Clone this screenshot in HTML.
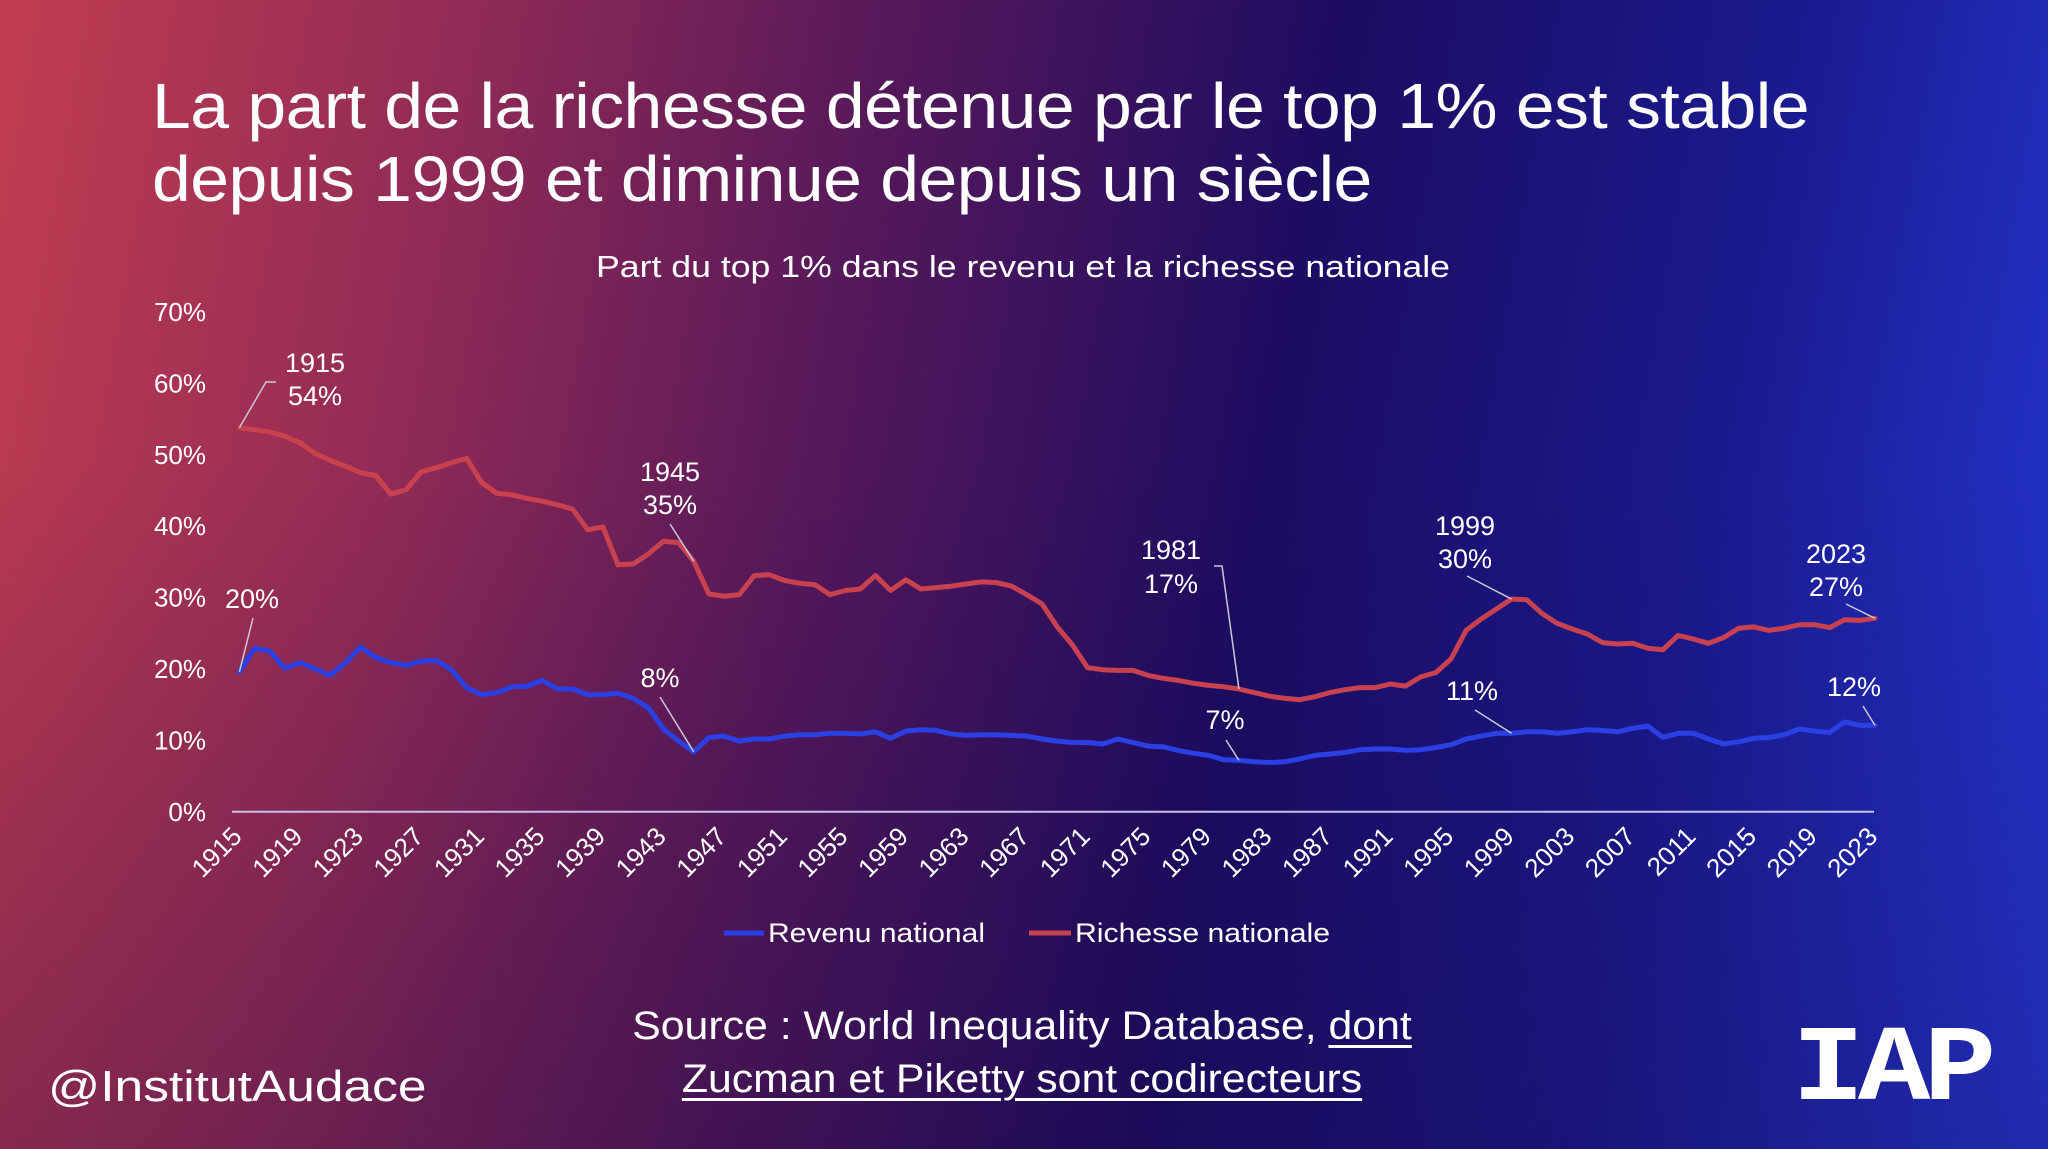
<!DOCTYPE html>
<html><head><meta charset="utf-8">
<style>
html,body{margin:0;padding:0;}
body{width:2048px;height:1149px;overflow:hidden;position:relative;font-family:"Liberation Sans",sans-serif;color:#fff;
background:linear-gradient(100deg,#c23d50 0%,#8e2a56 22%,#55185a 40%,#1c0c62 60%,#1a1a8e 80%,#2438d6 100%);}
.ov{position:absolute;inset:0;background:linear-gradient(180deg,rgba(0,0,0,0) 40%,rgba(20,5,60,0.25) 100%);}
.title{position:absolute;left:152px;top:70px;font-size:64px;line-height:73px;letter-spacing:-0.5px;margin:0;font-weight:normal;transform:scaleX(1.09);transform-origin:left top;white-space:nowrap;}
svg{position:absolute;left:0;top:0;}
.handle{position:absolute;left:48px;top:1062px;font-size:44px;transform:scaleX(1.17);transform-origin:left top;}
.src{position:absolute;left:522px;width:1000px;top:1000px;text-align:center;font-size:40px;line-height:53px;transform:scaleX(1.07);transform-origin:center top;}
.src u{text-decoration-thickness:3px;text-underline-offset:6px;}
.iap{position:absolute;left:1792px;top:1010px;font-family:"Liberation Mono",monospace;font-weight:bold;font-size:108px;letter-spacing:-6px;transform:scaleX(1.12);transform-origin:left top;}
</style></head>
<body>
<div class="ov"></div>
<h1 class="title">La part de la richesse détenue par le top 1% est stable<br>depuis 1999 et diminue depuis un siècle</h1>
<svg id="chart" width="2048" height="1149"></svg>
<div class="src">Source : World Inequality Database, <u>dont<br>Zucman et Piketty sont codirecteurs</u></div>
<div class="handle">@InstitutAudace</div>
<div class="iap">IAP</div>
<script>
const years = [];
for (let y = 1915; y <= 2023; y++) years.push(y);
const revenu = [19.6,22.9,22.5,20.1,20.9,20,19.1,20.9,23.1,21.6,20.9,20.5,21.1,21.2,19.9,17.4,16.4,16.7,17.5,17.6,18.4,17.2,17.2,16.4,16.4,16.6,15.9,14.6,11.6,9.9,8.4,10.4,10.6,9.9,10.2,10.2,10.6,10.8,10.8,11,11,10.9,11.2,10.3,11.3,11.5,11.4,10.9,10.7,10.8,10.8,10.7,10.6,10.2,9.9,9.7,9.7,9.5,10.2,9.7,9.2,9.1,8.6,8.2,7.9,7.3,7.2,7,6.9,7,7.4,7.9,8.1,8.3,8.7,8.8,8.8,8.6,8.7,9,9.4,10.2,10.6,11,11,11.2,11.2,11,11.2,11.5,11.4,11.2,11.7,12,10.4,11,11,10.2,9.5,9.8,10.3,10.4,10.8,11.6,11.3,11.1,12.6,12.1,12.1];
const richesse = [53.8,53.5,53.2,52.6,51.7,50.2,49.2,48.4,47.5,47.1,44.5,45.1,47.6,48.2,48.9,49.5,46.1,44.6,44.4,43.9,43.5,43,42.4,39.5,39.9,34.6,34.7,36.1,37.9,37.7,35.1,30.5,30.2,30.4,33.1,33.2,32.4,32,31.8,30.4,31,31.2,33.1,31,32.5,31.2,31.4,31.6,31.9,32.2,32.1,31.6,30.4,29.1,25.9,23.4,20.2,19.9,19.8,19.8,19.1,18.7,18.4,18,17.7,17.5,17.2,16.7,16.2,15.9,15.7,16.1,16.7,17.1,17.4,17.4,17.9,17.6,18.9,19.5,21.4,25.4,27,28.4,29.8,29.7,27.8,26.4,25.6,24.9,23.7,23.5,23.6,22.9,22.7,24.7,24.2,23.6,24.4,25.7,25.9,25.4,25.7,26.2,26.2,25.8,26.9,26.8,27.1];
const yTicks = [0,10,20,30,40,50,60,70];
const xTickYears = [1915,1919,1923,1927,1931,1935,1939,1943,1947,1951,1955,1959,1963,1967,1971,1975,1979,1983,1987,1991,1995,1999,2003,2007,2011,2015,2019,2023];

const svg = document.getElementById('chart');
const NS = 'http://www.w3.org/2000/svg';
const X0 = 239.4, X1 = 1875, Y0 = 811.8, PER = 7.14;
function xs(yr){ return X0 + (yr - 1915) * (X1 - X0) / 108; }
function ys(v){ return Y0 - v * PER; }
function mk(tag, attrs){ const e = document.createElementNS(NS, tag); for (const k in attrs) e.setAttribute(k, attrs[k]); svg.appendChild(e); return e; }

let t = mk('text',{x:596,y:277,'font-size':31,fill:'#fff','font-family':'Liberation Sans',textLength:854,lengthAdjust:'spacingAndGlyphs'});
t.textContent = 'Part du top 1% dans le revenu et la richesse nationale';



yTicks.forEach(v => {
  const e = mk('text',{x:206,y:ys(v)+9,'text-anchor':'end','font-size':26,fill:'#fff','font-family':'Liberation Sans'});
  e.textContent = v + '%';
  
  
});
const ax = mk('line',{x1:232,x2:1874,y1:Y0,y2:Y0,stroke:'#c8c0e8','stroke-width':2});



xTickYears.forEach(yr => {
  const x = xs(yr) + 4, y = 838;
  const e = mk('text',{x:x,y:y,'text-anchor':'end','font-size':26,fill:'#fff','font-family':'Liberation Sans',transform:`rotate(-45 ${x} ${y})`});
  e.textContent = yr;
  
  
});

function line(vals, color, name){
  const d = vals.map((v,i)=>(i?'L':'M')+xs(years[i]).toFixed(1)+','+ys(v).toFixed(1)).join(' ');
  const p = mk('path',{d:d,fill:'none',stroke:color,'stroke-width':5,'stroke-linejoin':'round','stroke-linecap':'round'});
  
  
}
line(richesse,'#c8414f','richesse-line');
line(revenu,'#2a40e2','revenu-line');

function leader(pts){
  const l = mk('polyline',{points:pts,fill:'none',stroke:'#c8c8d8','stroke-width':1.5});
  
  
}
function label(x,y,txt){
  const e = mk('text',{x:x,y:y,'text-anchor':'middle','font-size':27,fill:'#fff','font-family':'Liberation Sans'});
  e.textContent = txt;
  
  
}
function yrIdx(yr){ return yr - 1915; }
label(315,372,'1915'); label(315,405,'54%');
leader(`${xs(1915)},${ys(richesse[0])} 266,382 276,382`);
label(670,481,'1945'); label(670,514,'35%');
leader(`670,524 ${xs(1945)},${ys(richesse[yrIdx(1945)])}`);
label(252,608,'20%');
leader(`253,618 ${xs(1915)},${ys(revenu[0])}`);
label(660,687,'8%');
leader(`660,697 ${xs(1945)},${ys(revenu[yrIdx(1945)])}`);
label(1171,559,'1981'); label(1171,593,'17%');
leader(`1214,566 1222,566 ${xs(1981)},${ys(richesse[yrIdx(1981)])}`);
label(1225,729,'7%');
leader(`1226,740 ${xs(1981)},${ys(revenu[yrIdx(1981)])}`);
label(1465,535,'1999'); label(1465,568,'30%');
leader(`1467,576 ${xs(1999)},${ys(richesse[yrIdx(1999)])}`);
label(1472,700,'11%');
leader(`1475,710 ${xs(1999)},${ys(revenu[yrIdx(1999)])}`);
label(1836,563,'2023'); label(1836,596,'27%');
leader(`1846,604 ${xs(2023)},${ys(richesse[yrIdx(2023)])}`);
label(1854,696,'12%');
leader(`1863,706 ${xs(2023)},${ys(revenu[yrIdx(2023)])}`);

const l1 = mk('line',{x1:724,x2:764,y1:933,y2:933,stroke:'#2a40e2','stroke-width':5});


const t1 = mk('text',{x:768,y:942,'font-size':27,fill:'#fff','font-family':'Liberation Sans',textLength:217,lengthAdjust:'spacingAndGlyphs'});
t1.textContent = 'Revenu national';


const l2 = mk('line',{x1:1029,x2:1071,y1:933,y2:933,stroke:'#c8414f','stroke-width':5});


const t2 = mk('text',{x:1075,y:942,'font-size':27,fill:'#fff','font-family':'Liberation Sans',textLength:255,lengthAdjust:'spacingAndGlyphs'});
t2.textContent = 'Richesse nationale';


</script>
</body></html>
